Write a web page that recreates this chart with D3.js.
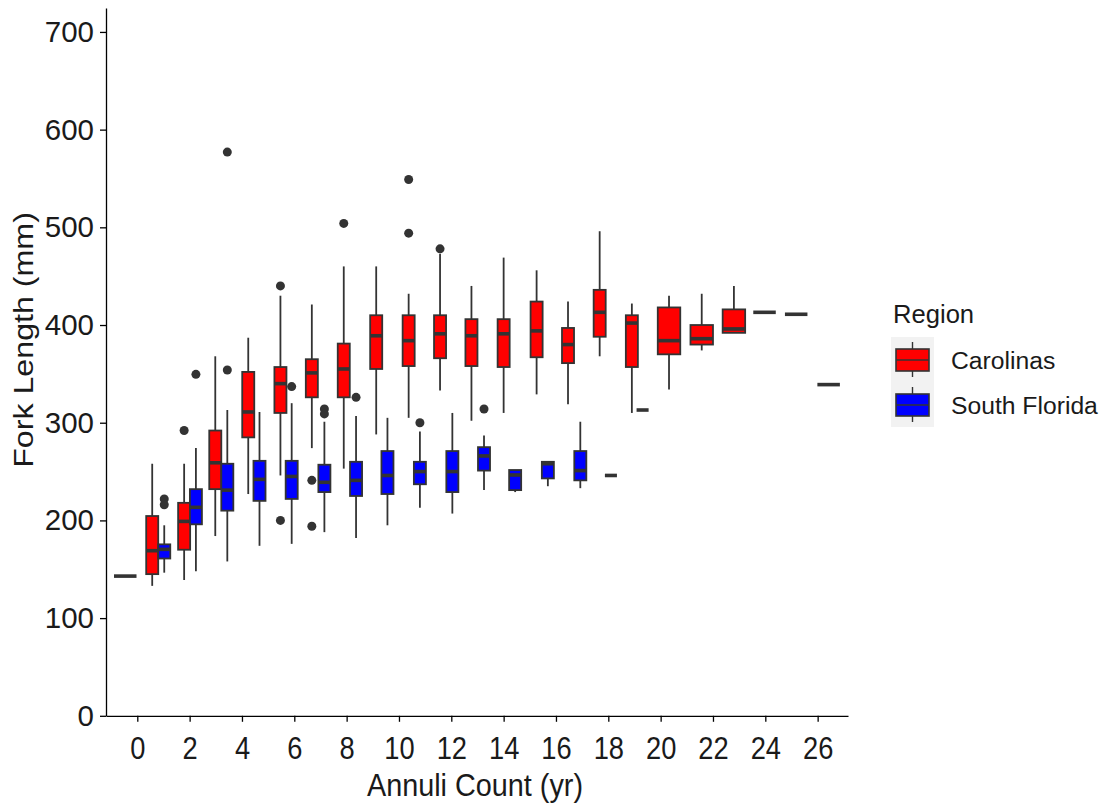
<!DOCTYPE html>
<html>
<head>
<meta charset="utf-8">
<script src="https://cdn.jsdelivr.net/npm/d3@7"></script>
<style>
  body { margin: 0; background: #fff; }
  svg { display: block; font-family: "Liberation Sans", Arial, sans-serif; }
</style>
</head>
<body>
<svg id="chart" width="1106" height="805"></svg>
<script>
// Box stats: [annuli position, lower whisker, q1, median, q3, upper whisker, outliers]
const carolinas = [
  [-0.46, 143, 143, 143, 143, 143, []],
  [0.57, 133, 145, 169, 204.5, 258, []],
  [1.79, 139, 170, 199, 218, 258, [292]],
  [2.98, 184, 232, 259, 292, 368, []],
  [4.24, 227, 285, 311, 352, 387, []],
  [5.47, 246, 310, 340, 357, 430, [440, 200]],
  [6.67, 274, 326, 351, 365, 421, [241, 194]],
  [7.89, 253, 326, 355, 381, 460, [504]],
  [9.13, 288, 355, 389, 410, 460, []],
  [10.37, 305, 358, 384, 410, 432, [549, 494]],
  [11.57, 333, 366, 391, 410, 473, [478]],
  [12.77, 302, 358, 389, 406, 440, []],
  [14.0, 310, 357, 391, 406, 469, []],
  [15.26, 329, 367, 394, 424, 456, []],
  [16.46, 319, 361, 380, 397, 424, []],
  [17.67, 368, 388, 413, 436, 496, []],
  [18.9, 310, 357, 402, 410, 422, []],
  [20.32, 334, 370, 384, 418, 430, []],
  [21.57, 374, 380, 386, 400, 432, []],
  [22.8, 392, 392, 396, 416, 440, []],
  [23.97, 413, 413, 413, 413, 413, []],
  [25.18, 411, 411, 411, 411, 411, []],
  [26.42, 339, 339, 339, 339, 339, []]
];

const southFlorida = [
  [1.03, 146.5, 161, 170.4, 175.5, 195, [222, 216]],
  [2.24, 148, 196, 213.4, 232, 274, [349.5]],
  [3.44, 158, 210, 231, 258, 313, [354, 577]],
  [4.67, 174, 220, 242, 261, 311, []],
  [5.9, 176, 222, 245, 261, 320, [337]],
  [7.15, 188, 229, 239, 257, 301, [314, 309]],
  [8.36, 182, 225, 241, 260, 307, [326]],
  [9.56, 195, 227, 246, 271, 305, []],
  [10.8, 213, 237, 250, 260, 291, [300]],
  [12.04, 207, 229, 250, 271, 310, []],
  [13.25, 231, 251, 266, 275, 287, [314]],
  [14.44, 229, 231, 246.5, 251.6, 251.6, []],
  [15.69, 235, 243, 258, 260, 260, []],
  [16.93, 233, 241, 251, 271, 301, []],
  [18.1, 246, 246, 246, 246, 246, []],
  [19.31, 313, 313, 313, 313, 313, []]
];

const regions = ['Carolinas', 'South Florida'];
const regionColors = ['#ff0000', '#0000ff'];
const xTicks = d3.range(0, 27, 2);
const yTicks = [0, 100, 200, 300, 400, 500, 600, 700];

const svg = d3.select('#chart');
const INK = '#333333';
const TEXT = '#1a1a1a';

const x = d3.scaleLinear().domain([-1.196, 27.16]).range([106, 848]);
const y = d3.scaleLinear().domain([0, 724.5]).range([715.8, 8]);

// --- boxes ---
const boxes = [];
[carolinas, southFlorida].forEach((rows, ri) => {
  const other = ri === 0 ? southFlorida : carolinas;
  rows.forEach(r => {
    // a box with no partner nearby takes the whole slot
    const solo = !other.some(o => Math.abs(o[0] - r[0]) < 0.7);
    boxes.push({
      region: ri, x: r[0], lo: r[1], q1: r[2], med: r[3], q3: r[4], hi: r[5], out: r[6],
      w: solo ? 0.86 : 0.46
    });
  });
});

const plot = svg.append('g').attr('class', 'boxes');

boxes.forEach(b => {
  const g = plot.append('g');
  const cx = x(b.x);
  const half = (x(b.x + b.w / 2) - x(b.x - b.w / 2)) / 2;

  // whiskers
  g.append('line')
    .attr('x1', cx).attr('x2', cx)
    .attr('y1', y(b.q3)).attr('y2', y(b.hi))
    .attr('stroke', INK).attr('stroke-width', 1.8);
  g.append('line')
    .attr('x1', cx).attr('x2', cx)
    .attr('y1', y(b.q1)).attr('y2', y(b.lo))
    .attr('stroke', INK).attr('stroke-width', 1.8);

  // box
  g.append('rect')
    .attr('x', cx - half).attr('width', half * 2)
    .attr('y', y(b.q3)).attr('height', Math.max(0, y(b.q1) - y(b.q3)))
    .attr('fill', regionColors[b.region])
    .attr('stroke', INK).attr('stroke-width', 1.8);

  // median
  g.append('line')
    .attr('x1', cx - half).attr('x2', cx + half)
    .attr('y1', y(b.med)).attr('y2', y(b.med))
    .attr('stroke', INK).attr('stroke-width', 3.6);

  // outliers
  g.selectAll('circle')
    .data(b.out)
    .enter()
    .append('circle')
    .attr('cx', cx)
    .attr('cy', d => y(d))
    .attr('r', 4.5)
    .attr('fill', INK);
});

// --- axes ---
const xAxis = svg.append('g')
  .attr('transform', `translate(0,${y(0)})`)
  .call(d3.axisBottom(x).tickValues(xTicks).tickSize(6).tickPadding(15).tickSizeOuter(0));
xAxis.select('.domain').attr('stroke', '#000').attr('stroke-width', 1.3);
xAxis.selectAll('.tick line').attr('stroke', '#000').attr('stroke-width', 1.3);
xAxis.selectAll('.tick text')
  .attr('fill', TEXT)
  .style('font-size', '31px')
  .attr('transform', 'scale(0.88,1)');

const yAxis = svg.append('g')
  .attr('transform', `translate(${x.range()[0]},0)`)
  .call(d3.axisLeft(y).tickValues(yTicks).tickSize(6).tickPadding(6).tickSizeOuter(0));
yAxis.select('.domain').attr('stroke', '#000').attr('stroke-width', 1.3);
yAxis.selectAll('.tick line').attr('stroke', '#000').attr('stroke-width', 1.3);
yAxis.selectAll('.tick text')
  .attr('fill', TEXT)
  .style('font-size', '29.5px');

// axis titles
svg.append('text')
  .attr('x', 0).attr('y', 0)
  .attr('text-anchor', 'middle')
  .attr('fill', TEXT)
  .style('font-size', '32px')
  .attr('transform', 'translate(475,796) scale(0.9,1)')
  .text('Annuli Count (yr)');

svg.append('text')
  .attr('transform', 'translate(33,340) rotate(-90) scale(1.15,1)')
  .attr('text-anchor', 'middle')
  .attr('fill', TEXT)
  .style('font-size', '28px')
  .text('Fork Length (mm)');

// --- legend ---
const legend = svg.append('g').attr('transform', 'translate(891,0)');
legend.append('text')
  .attr('x', 2).attr('y', 323)
  .attr('fill', TEXT)
  .style('font-size', '25.6px')
  .text('Region');

regions.forEach((name, i) => {
  const top = 337 + i * 45;
  const k = legend.append('g').attr('transform', `translate(0,${top})`);
  k.append('rect').attr('width', 43).attr('height', 45).attr('fill', '#f2f2f2');
  k.append('line').attr('x1', 21.5).attr('x2', 21.5).attr('y1', 5).attr('y2', 40)
    .attr('stroke', INK).attr('stroke-width', 1.4);
  k.append('rect').attr('x', 5).attr('y', 12).attr('width', 33).attr('height', 22)
    .attr('fill', regionColors[i]).attr('stroke', INK).attr('stroke-width', 1.6);
  k.append('line').attr('x1', 5).attr('x2', 38).attr('y1', 23).attr('y2', 23)
    .attr('stroke', INK).attr('stroke-width', 1.6);
  k.append('text')
    .attr('x', 60).attr('y', 23).attr('dy', '0.35em')
    .attr('fill', TEXT)
    .style('font-size', '24.7px')
    .text(name);
});
</script>
</body>
</html>
